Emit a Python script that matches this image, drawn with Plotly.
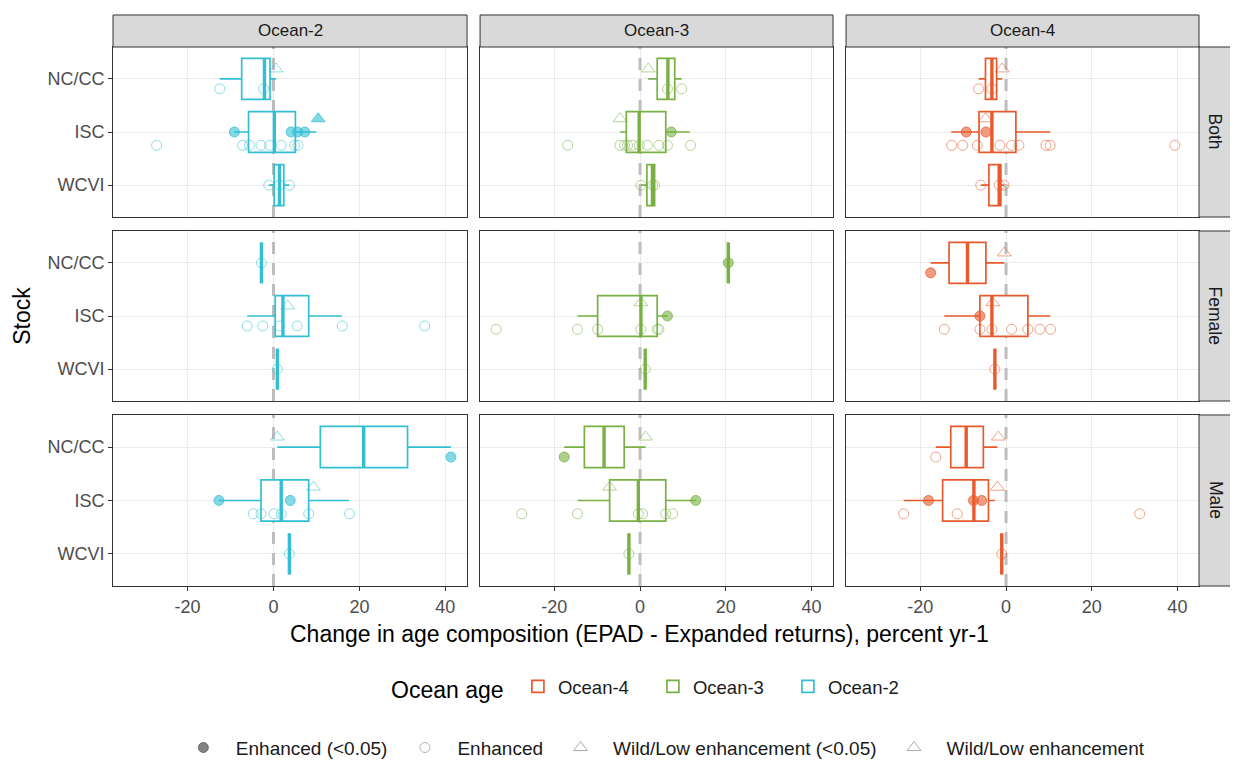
import plotly.graph_objects as go
from plotly.subplots import make_subplots

oceans = ["Ocean-2", "Ocean-3", "Ocean-4"]
sexes = ["Both", "Female", "Male"]
stocks = ["NC/CC", "ISC", "WCVI"]
colors = {"Ocean-2": (51, 191, 211), "Ocean-3": (120, 176, 67), "Ocean-4": (232, 90, 44)}

# box statistics per panel, one value per stock (NC/CC, ISC, WCVI)
box_lower = {
    ("Both", "Ocean-2"): [-12.5, -9.1, -1.1],
    ("Both", "Ocean-3"): [1.9, -4.7, 0.2],
    ("Both", "Ocean-4"): [-6.4, -12.8, -5.9],
    ("Female", "Ocean-2"): [-2.8, -6.1, 0.9],
    ("Female", "Ocean-3"): [20.6, -14.6, 1.2],
    ("Female", "Ocean-4"): [-17.6, -14.4, -2.6],
    ("Male", "Ocean-2"): [0.9, -12.7, 3.7],
    ("Male", "Ocean-3"): [-17.7, -14.6, -2.6],
    ("Male", "Ocean-4"): [-16.4, -23.9, -1.0],
}
box_q1 = {
    ("Both", "Ocean-2"): [-7.4, -5.8, 0.15],
    ("Both", "Ocean-3"): [4.0, -3.2, 1.6],
    ("Both", "Ocean-4"): [-4.8, -6.3, -4.0],
    ("Female", "Ocean-2"): [-2.8, 0.4, 0.9],
    ("Female", "Ocean-3"): [20.6, -9.9, 1.2],
    ("Female", "Ocean-4"): [-13.3, -6.1, -2.6],
    ("Male", "Ocean-2"): [10.9, -2.9, 3.7],
    ("Male", "Ocean-3"): [-13.0, -7.1, -2.6],
    ("Male", "Ocean-4"): [-12.9, -14.8, -1.0],
}
box_median = {
    ("Both", "Ocean-2"): [-2.1, 0.2, 1.4],
    ("Both", "Ocean-3"): [6.5, -0.2, 2.9],
    ("Both", "Ocean-4"): [-3.3, -3.3, -1.6],
    ("Female", "Ocean-2"): [-2.8, 2.2, 0.9],
    ("Female", "Ocean-3"): [20.6, 0.2, 1.2],
    ("Female", "Ocean-4"): [-9.0, -3.3, -2.6],
    ("Male", "Ocean-2"): [21.0, 1.8, 3.7],
    ("Male", "Ocean-3"): [-8.4, -0.4, -2.6],
    ("Male", "Ocean-4"): [-9.3, -7.5, -1.0],
}
box_q3 = {
    ("Both", "Ocean-2"): [-0.8, 5.1, 2.4],
    ("Both", "Ocean-3"): [8.1, 6.0, 3.4],
    ("Both", "Ocean-4"): [-2.2, 2.3, -1.2],
    ("Female", "Ocean-2"): [-2.8, 8.2, 0.9],
    ("Female", "Ocean-3"): [20.6, 4.0, 1.2],
    ("Female", "Ocean-4"): [-4.7, 5.1, -2.6],
    ("Male", "Ocean-2"): [31.2, 8.2, 3.7],
    ("Male", "Ocean-3"): [-3.7, 6.0, -2.6],
    ("Male", "Ocean-4"): [-5.3, -4.1, -1.0],
}
box_upper = {
    ("Both", "Ocean-2"): [0.6, 10.0, 3.7],
    ("Both", "Ocean-3"): [9.7, 11.6, 3.4],
    ("Both", "Ocean-4"): [-0.9, 10.3, -0.5],
    ("Female", "Ocean-2"): [-2.8, 15.9, 0.9],
    ("Female", "Ocean-3"): [20.6, 6.4, 1.2],
    ("Female", "Ocean-4"): [-0.4, 10.3, -2.6],
    ("Male", "Ocean-2"): [41.3, 17.6, 3.7],
    ("Male", "Ocean-3"): [1.3, 13.0, -2.6],
    ("Male", "Ocean-4"): [-2.0, -2.6, -1.0],
}

# individual estimates per panel and stock
wild_sig = {
    ("Both", "Ocean-2"): [[], [10.4], []],
}
wild = {
    ("Both", "Ocean-2"): [[0.6], [], []],
    ("Both", "Ocean-3"): [[1.9], [-4.7], []],
    ("Both", "Ocean-4"): [[-0.9], [-4.8], []],
    ("Female", "Ocean-2"): [[], [3.3], []],
    ("Female", "Ocean-3"): [[], [0.2], []],
    ("Female", "Ocean-4"): [[-0.4], [-3.1], []],
    ("Male", "Ocean-2"): [[0.9], [9.3], []],
    ("Male", "Ocean-3"): [[1.3], [-7.1], []],
    ("Male", "Ocean-4"): [[-1.8], [-2.0], []],
}
enhanced_sig = {
    ("Both", "Ocean-2"): [[], [-9.1, 4.1, 5.6, 7.3], []],
    ("Both", "Ocean-3"): [[], [7.3], []],
    ("Both", "Ocean-4"): [[], [-9.3, -4.7], []],
    ("Female", "Ocean-3"): [[20.6], [6.4], []],
    ("Female", "Ocean-4"): [[-17.6], [-6.1], []],
    ("Male", "Ocean-2"): [[41.3], [-12.7, 3.9], []],
    ("Male", "Ocean-3"): [[-17.7], [13.0], []],
    ("Male", "Ocean-4"): [[], [-18.1, -7.6, -5.7], []],
}
enhanced = {
    ("Both", "Ocean-2"): [[-12.5, -2.3], [-27.2, -7.2, -5.6, -2.9, -0.9, 1.8, 4.9, 5.7], [-1.1, 1.4, 3.7]],
    ("Both", "Ocean-3"): [[6.4, 9.7], [-16.9, -4.7, -3.6, -2.9, -1.8, -0.2, 1.7, 4.4, 6.4, 11.8], [0.2, 2.9, 3.4]],
    ("Both", "Ocean-4"): [[-6.4, -3.3], [-12.7, -10.1, -6.7, -1.4, 1.3, 3.0, 9.3, 10.3, 39.4], [-5.9, -1.6, -0.5]],
    ("Female", "Ocean-2"): [[-2.8], [-6.1, -2.5, 1.4, 5.5, 16.0, 35.2], [0.9]],
    ("Female", "Ocean-3"): [[], [-33.6, -14.6, -9.9, 0.2, 4.0, 4.4], [1.2]],
    ("Female", "Ocean-4"): [[], [-14.4, -6.1, -3.3, 1.3, 5.1, 7.9, 10.4], [-2.6]],
    ("Male", "Ocean-2"): [[], [-4.7, -2.9, 0.1, 1.8, 8.2, 17.7], [3.7]],
    ("Male", "Ocean-3"): [[], [-27.6, -14.6, -0.4, 0.6, 6.0, 7.6], [-2.6]],
    ("Male", "Ocean-4"): [[-16.4], [-23.9, -11.4, 31.2], [-1.0]],
}

x_ticks = [-20, 0, 20, 40]
x_ticktext = ["-20", "0", "20", "40"]
FONT = "Liberation Sans, Arial, sans-serif"


def rgba(c, a):
    return "rgba(%d,%d,%d,%s)" % (c[0], c[1], c[2], a)


# x range like ggplot: data range with 5% expansion
allvals = []
for d in (box_lower, box_upper):
    for v in d.values():
        allvals += v
for d in (wild_sig, wild, enhanced_sig, enhanced):
    for v in d.values():
        for lst in v:
            allvals += lst
lo, hi = min(allvals), max(allvals)
pad = 0.05 * (hi - lo)
x_range = [lo - pad, hi + pad]
y_range = [len(stocks) - 0.4, -0.6]

fig = make_subplots(rows=3, cols=3)

# panel geometry (paper fractions)
col_dom = [[0, 0.326], [0.338, 0.663], [0.675, 1.0]]
row_dom = [[0.6846, 1.0], [0.3432, 0.6586], [0.0, 0.3173]]

BOX_W = 0.77
DODGE = 0.75

# point groups in dodge order (top to bottom)
groups = [
    (wild_sig, dict(symbol="triangle-up", size=12), True),
    (wild, dict(symbol="triangle-up-open", size=12), False),
    (enhanced_sig, dict(symbol="circle", size=10), True),
    (enhanced, dict(symbol="circle-open", size=10), False),
]

legend_done = set()
for r, sex in enumerate(sexes):
    for c, ocean in enumerate(oceans):
        n = r * 3 + c + 1
        key = (sex, ocean)
        col = colors[ocean]
        show = ocean not in legend_done
        legend_done.add(ocean)
        fig.add_trace(go.Box(
            y=list(range(len(stocks))), orientation="h",
            lowerfence=box_lower[key], q1=box_q1[key], median=box_median[key],
            q3=box_q3[key], upperfence=box_upper[key],
            width=BOX_W, whiskerwidth=0, fillcolor="white",
            line=dict(color=rgba(col, 1), width=1.7),
            name=ocean, legend="legend", showlegend=show,
            legendrank={"Ocean-4": 1, "Ocean-3": 2, "Ocean-2": 3}[ocean],
            hoverinfo="skip"), row=r + 1, col=c + 1)

        # thicker median line, as in ggplot
        mx, my = [], []
        for i, m in enumerate(box_median[key]):
            mx += [m, m, None]
            my += [i - BOX_W / 2, i + BOX_W / 2, None]
        fig.add_trace(go.Scatter(x=mx, y=my, mode="lines", showlegend=False,
                                 line=dict(color=rgba(col, 1), width=3.4),
                                 hoverinfo="skip"), row=r + 1, col=c + 1)

        # dodged points
        for i in range(len(stocks)):
            present = [g for g in groups if g[0].get(key, [[], [], []])[i]]
            k = len(present)
            for j, (data, mk, filled) in enumerate(present):
                off = (j + 0.5) * DODGE / k - DODGE / 2
                vals = data[key][i]
                if filled:
                    marker = dict(symbol=mk["symbol"], size=mk["size"], color=rgba(col, 0.6),
                                  line=dict(color=rgba(col, 0.75), width=1))
                else:
                    marker = dict(symbol=mk["symbol"], size=mk["size"], color=rgba(col, 0.55),
                                  line=dict(width=1))
                fig.add_trace(go.Scatter(x=vals, y=[i + off] * len(vals), mode="markers",
                                         marker=marker, showlegend=False, hoverinfo="skip"),
                              row=r + 1, col=c + 1)

        xa = "xaxis" if n == 1 else "xaxis%d" % n
        ya = "yaxis" if n == 1 else "yaxis%d" % n
        xr = "x" if n == 1 else "x%d" % n
        yr = "y" if n == 1 else "y%d" % n
        fig.layout[xa].update(
            domain=col_dom[c], range=x_range, tickvals=x_ticks, ticktext=x_ticktext,
            showticklabels=(r == 2), ticks="outside" if r == 2 else "",
            ticklen=4, tickcolor="#333333",
            tickfont=dict(size=18, color="#4D4D4D", family=FONT),
            showgrid=True, gridcolor="#EBEBEB", gridwidth=1.4, zeroline=False,
            showline=True, mirror=True, linecolor="#333333", linewidth=1)
        fig.layout[ya].update(
            domain=row_dom[r], range=y_range,
            tickvals=list(range(len(stocks))), ticktext=stocks,
            showticklabels=(c == 0), ticks="outside" if c == 0 else "",
            ticklen=4, tickcolor="#333333",
            tickfont=dict(size=18, color="#4D4D4D", family=FONT),
            showgrid=True, gridcolor="#EBEBEB", gridwidth=1.4, zeroline=False,
            showline=True, mirror=True, linecolor="#333333", linewidth=1)

        # dashed zero reference, between grid and data
        fig.add_shape(type="line", xref=xr, yref=yr, x0=0, x1=0,
                      y0=y_range[0], y1=y_range[1],
                      line=dict(color="#BDBDBD", width=3, dash="12px,9px"), layer="between")

        # strips
        if r == 0:
            fig.add_shape(type="rect", xref=xr + " domain", yref=yr + " domain",
                          x0=0, x1=1, y0=1, y1=1 + 32 / 170,
                          fillcolor="#D9D9D9", line=dict(color="#333333", width=1))
            fig.add_annotation(text=ocean, xref=xr + " domain", yref=yr + " domain",
                               x=0.5, y=1 + 16 / 170, showarrow=False,
                               xanchor="center", yanchor="middle",
                               font=dict(size=17, color="#1A1A1A", family=FONT))
        if c == 2:
            fig.add_shape(type="rect", xref=xr + " domain", yref=yr + " domain",
                          x0=1, x1=1 + 33 / 354, y0=0, y1=1,
                          fillcolor="#D9D9D9", line=dict(color="#333333", width=1))
            fig.add_annotation(text=sex, xref=xr + " domain", yref=yr + " domain",
                               x=1 + 16.5 / 354, y=0.5, showarrow=False, textangle=90,
                               xanchor="center", yanchor="middle",
                               font=dict(size=17.5, color="#1A1A1A", family=FONT))

# second legend: significance / origin symbols
gray = (90, 90, 90)
legend2_items = [
    ("Enhanced (<0.05)", dict(symbol="circle", size=10, color=rgba(gray, 0.75),
                               line=dict(color=rgba(gray, 0.8), width=1))),
    ("Enhanced", dict(symbol="circle-open", size=10, color=rgba(gray, 0.45), line=dict(width=1))),
    ("Wild/Low enhancement (<0.05)", dict(symbol="triangle-up-open", size=12,
                                          color=rgba(gray, 0.5), line=dict(width=1))),
    ("Wild/Low enhancement", dict(symbol="triangle-up-open", size=12,
                                  color=rgba(gray, 0.5), line=dict(width=1))),
]
for name, mk in legend2_items:
    fig.add_trace(go.Scatter(x=[None], y=[None], mode="markers", marker=mk, name=name,
                             legend="legend2", showlegend=True))

fig.add_annotation(text="Change in age composition (EPAD - Expanded returns), percent yr-1",
                   xref="paper", yref="paper", x=0.485, y=-0.089, showarrow=False,
                   xanchor="center", yanchor="middle",
                   font=dict(size=23, color="black", family=FONT))
fig.add_annotation(text="Stock", xref="paper", yref="paper", x=-0.084, y=0.501,
                   showarrow=False, textangle=-90, xanchor="center", yanchor="middle",
                   font=dict(size=23, color="black", family=FONT))

# the page body adds 8px around the figure, so the figure is 8px smaller per side
fig.update_layout(
    width=1230, height=754,
    margin=dict(l=105, r=39, t=39, b=176, autoexpand=False),
    paper_bgcolor="white", plot_bgcolor="white",
    font=dict(family=FONT),
    legend=dict(orientation="h", x=0.5, xanchor="center", y=-0.189, yanchor="middle",
                title=dict(text="Ocean age ", side="left", font=dict(size=23, color="black")),
                font=dict(size=18.5, color="#1A1A1A"), traceorder="normal",
                entrywidth=90),
    legend2=dict(orientation="h", x=0.504, xanchor="center", y=-0.30, yanchor="middle",
                 font=dict(size=19, color="#1A1A1A"), itemwidth=55),
)

fig.write_html("out.html")
